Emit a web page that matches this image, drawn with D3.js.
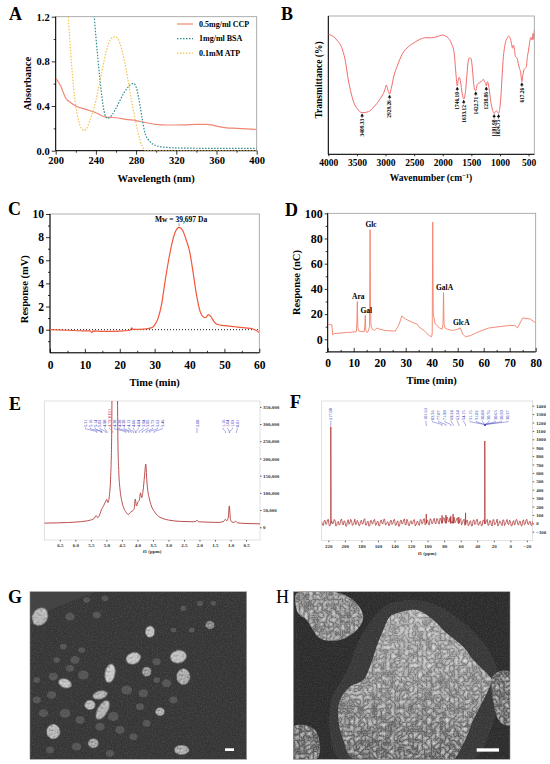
<!DOCTYPE html>
<html>
<head>
<meta charset="utf-8">
<script src="https://cdn.jsdelivr.net/npm/d3@7"></script>
<style>
body { margin: 0; background: #fff; }
svg { display: block; }
</style>
</head>
<body>
<svg id="fig" width="550" height="764"></svg>
<script>
// ---- A: UV spectra
const aNames = ["0.5mg/ml CCP", "1mg/ml BSA", "0.1mM ATP"];
const ccpWl = [200, 205, 210, 215, 220, 230, 240, 250, 260, 270, 280, 290, 300, 310, 320, 330, 340, 350, 355, 360, 370, 380, 390, 400];
const ccpAbs = [0.65, 0.58, 0.47, 0.43, 0.40, 0.37, 0.34, 0.30, 0.295, 0.28, 0.27, 0.25, 0.235, 0.23, 0.23, 0.232, 0.235, 0.235, 0.232, 0.22, 0.205, 0.2, 0.195, 0.19];
const bsaWl = [236, 238, 240, 242, 244, 246, 248, 250, 252, 256, 260, 264, 268, 272, 276, 278, 280, 282, 284, 286, 288, 290, 292, 295, 300, 305, 310, 320, 340, 360, 380, 400];
const bsaAbs = [1.45, 1.24, 1.02, 0.82, 0.64, 0.48, 0.36, 0.3, 0.29, 0.32, 0.38, 0.45, 0.52, 0.57, 0.6, 0.6, 0.57, 0.5, 0.4, 0.29, 0.19, 0.13, 0.1, 0.07, 0.045, 0.035, 0.03, 0.025, 0.022, 0.02, 0.02, 0.02];
const atpWl = [208, 210, 212, 214, 216, 218, 220, 222, 224, 226, 228, 230, 232, 234, 236, 238, 240, 242, 244, 246, 248, 250, 252, 254, 256, 258, 260, 262, 264, 266, 268, 270, 272, 274, 276, 278, 280, 282, 284, 286, 288, 290, 300, 320, 340, 360, 380, 400];
const atpAbs = [1.6, 1.45, 1.25, 1.0, 0.75, 0.55, 0.4, 0.3, 0.23, 0.195, 0.18, 0.19, 0.22, 0.27, 0.32, 0.38, 0.45, 0.53, 0.62, 0.71, 0.8, 0.88, 0.94, 0.99, 1.01, 1.02, 1.02, 1.0, 0.96, 0.9, 0.82, 0.73, 0.63, 0.52, 0.42, 0.33, 0.24, 0.16, 0.09, 0.04, 0.01, 0, 0, 0, 0, 0, 0, 0];

// ---- B: FTIR
const bWn = [4000, 3850, 3750, 3700, 3650, 3600, 3550, 3500, 3409, 3300, 3200, 3100, 3000, 2990, 2950, 2929, 2900, 2850, 2800, 2700, 2600, 2500, 2400, 2300, 2200, 2100, 2000, 1950, 1900, 1850, 1800, 1770, 1746, 1730, 1710, 1690, 1660, 1633, 1610, 1580, 1560, 1540, 1520, 1500, 1480, 1460, 1440, 1422, 1400, 1380, 1350, 1320, 1290, 1270, 1250, 1238, 1220, 1200, 1180, 1150, 1120, 1101, 1080, 1060, 1040, 1024, 1000, 980, 960, 940, 920, 900, 870, 850, 820, 800, 780, 765, 750, 730, 700, 680, 660, 640, 617, 600, 580, 560, 540, 520, 500, 480, 460, 440, 420, 410, 400];
const bTrans = [86.8, 82.6, 75.4, 67, 53.7, 44.1, 36.9, 33.3, 30.1, 30.8, 34.4, 39.8, 48.4, 50.1, 45.3, 43.6, 47.7, 57.3, 63.3, 73, 77.8, 80.7, 83.1, 84.3, 84.3, 85.0, 86.2, 85.5, 83.9, 80.3, 73, 58.6, 49.4, 53.7, 55.7, 52.5, 44.1, 40, 42.9, 56.1, 65.8, 69.4, 69.8, 68.2, 61, 51.3, 46.5, 46, 50.1, 51.3, 51.8, 53, 54.2, 52.5, 51.3, 49.4, 52.5, 50.1, 44.1, 35.6, 30.8, 29.6, 30.8, 31.5, 30.1, 29.6, 34.4, 44.1, 58.6, 70.6, 77.4, 81.4, 84.3, 85.5, 83.9, 80.3, 76.7, 79.0, 76.7, 70.6, 69.4, 65.8, 62.2, 59.7, 52.5, 57.3, 61, 62.2, 63.3, 70.6, 75.4, 81.4, 84.6, 82.6, 87.5, 83.1, 89.9];
const bPeaks = [3409.33, 2929.26, 1746.10, 1633.12, 1422.71, 1238.86, 1101.98, 1024.75, 617.26];

// ---- C: HPGPC
const cTime = [0, 5, 10, 11.5, 12, 12.5, 15, 20, 23, 23.4, 23.8, 27, 29, 30, 31, 32, 33, 34, 35, 36, 37, 38, 39, 40, 41, 42, 43, 44, 44.6, 45.4, 46.2, 47, 48, 50, 53, 56, 58, 59, 60];
const cResp = [0, -0.05, -0.1, -0.1, -0.25, -0.1, -0.15, -0.12, -0.05, 0.15, 0.03, 0.05, 0.15, 0.4, 1.0, 2.2, 4.2, 6.0, 7.5, 8.5, 8.85, 8.6, 7.8, 6.8, 5.0, 3.0, 1.6, 1.1, 1.05, 1.3, 1.1, 0.7, 0.45, 0.35, 0.25, 0.15, 0.08, -0.05, -0.25];
const mwText = "Mw = 39,697 Da";

// ---- D: monosaccharides
const dTime = [0, 1.6, 1.9, 2.5, 5, 8, 11, 11.2, 11.4, 11.6, 12, 14, 14.25, 14.45, 14.65, 15, 15.5, 16.1, 16.3, 16.45, 16.6, 16.8, 17.2, 18, 19, 20, 22, 26, 27.5, 28.5, 30, 33, 34.5, 35, 37, 39, 40, 40.2, 40.4, 40.6, 40.9, 41.2, 41.5, 42, 43, 44, 44.35, 44.55, 44.75, 45.1, 46, 48, 50, 51, 52, 53, 55, 58, 62, 66, 70, 72, 73, 74, 75, 78, 80];
const dResp = [12, 11.5, 3.5, 4.5, 5, 5.5, 6, 12, 30, 9, 6.5, 6, 10, 19, 7, 5.5, 6, 10, 87, 28, 12, 10, 8, 7, 9, 8, 7, 6.5, 12, 18.5, 16, 13, 12, 10, 7, 3, 2, 5, 93, 20, 17, 13, 12, 11, 9, 8, 12, 37, 12, 9, 8, 7, 8, 9, 4, 2, 3, 6, 9, 10, 11, 11, 9, 13, 17, 16, 13];
const sugarNames = ["Ara", "Gal", "Glc", "GalA", "GlcA"];
const sugarTimes = [11.4, 14.45, 16.3, 44.55, 51];
const sugarLevels = [30, 19, 87, 37, 9];

// ---- E: 1H NMR
const hPpm = [7.0, 6.5, 6.0, 5.6, 5.4, 5.33, 5.28, 5.2, 5.16, 5.12, 5.06, 5.02, 4.99, 4.95, 4.9, 4.86, 4.83, 4.81, 4.73, 4.65, 4.63, 4.6, 4.56, 4.5, 4.42, 4.35, 4.3, 4.25, 4.2, 4.15, 4.1, 4.07, 4.03, 3.98, 3.94, 3.9, 3.86, 3.82, 3.77, 3.73, 3.70, 3.66, 3.62, 3.55, 3.45, 3.35, 3.2, 3.0, 2.6, 2.2, 2.12, 2.08, 2.03, 1.8, 1.4, 1.22, 1.17, 1.12, 1.07, 1.04, 1.0, 0.95, 0.88, 0.84, 0.78, 0.5, 0.05];
const hInt = [12000, 13000, 15000, 19000, 25000, 34000, 28000, 40000, 52000, 58000, 68000, 76000, 81000, 72000, 95000, 150000, 260000, 450000, 500000, 450000, 260000, 160000, 110000, 75000, 52000, 42000, 37000, 40000, 46000, 48000, 55000, 82000, 62000, 74000, 78000, 100000, 86000, 105000, 150000, 184000, 140000, 103000, 85000, 62000, 45000, 34000, 26000, 21000, 17000, 16000, 17000, 21000, 16000, 15000, 14000, 17000, 23000, 19000, 30000, 62000, 22000, 15000, 14000, 18000, 13000, 11000, 10000];
const hLabelPpm = [5.31, 5.16, 5.14, 5.02, 4.98, 4.79, 4.38, 4.28, 4.20, 4.12, 4.06, 4.04, 3.94, 3.85, 3.72, 3.62, 3.46, 2.08, 1.16, 1.04, 1.03, 0.81];
const hLabelGroup = [0, 0, 0, 0, 0, 1, 2, 2, 2, 2, 2, 2, 2, 2, 2, 2, 2, 3, 4, 4, 4, 4];

// ---- F: 13C NMR  (baseline noise read at even and odd ppm)
const fNoiseEven = [
  18, -25, 37, -5, 48, -32, 28, 2, 40, -28,
  22, -12, 52, -20, 25, -35, 43, 3, 33, -18,
  49, -8, 16, -26, 38, -4, 55, -20, 27, -30,
  34, 2, 46, -18, 23, -29, 41, -6, 50, -14,
  19, -24, 37, 0, 48, -21, 29, -33, 40, -5,
  53, -16, 22, -27, 32, 4, 45, -19, 28, -26,
  43, -3, 55, -11, 37, -20, 49, -2, 60, -8,
  52, -10, 47, 4, 64, 6, 70, 18, 76, 22,
  72, 20, 66, 12, 56, -2, 48, -14, 40, -22,
  30, -30, 42, -6, 50, -18, 24, -26, 36, -2,
  47, -20, 29, -32, 41, -4, 50, -12, 20, -28,
  38, -3, 46, -17, 26, -30, 33, 1, 43, -22,
  24, -31, 40, -9, 48, -16, 22, -25];
const fNoiseOdd = [
  -20, 30, -14, 41, -27, 20, -8, 45, -33, 12,
  -22, 38, -6, 29, -31, 17, -12, 47, -25, 9,
  -17, 35, -29, 24, -9, 44, -21, 14, -34, 31,
  -11, 40, -24, 19, -30, 27, -4, 46, -19, 10,
  -28, 33, -13, 42, -23, 15, -35, 26, -7, 39,
  -18, 48, -26, 21, -10, 37, -32, 16, -15, 43,
  -6, 50, -20, 30, -12, 54, -4, 40, 0, 58,
  5, 62, 8, 66, 14, 72, 20, 68, 16, 60,
  6, 52, -4, 44, -18, 36, -24, 30, -28, 22,
  -32, 35, -16, 43, -22, 18, -30, 39, -8, 27,
  -25, 34, -14, 45, -19, 13, -33, 28, -10, 41,
  -26, 20, -6, 37, -29, 15, -21, 44, -12, 25,
  -27, 32, -18, 40, -9, 19, -24, 30];
const fPeakPpm = [217.0, 101.63, 82.56, 77.87, 71.99, 69.24, 62.24, 54.15, 30.9];
const fPeakHeight = [1150, 110, 95, 100, 85, 110, 75, 125, 980];
const cLabelPpm = [217.00, 101.63, 82.56, 77.87, 71.99, 69.24, 62.24, 54.15, 31.15, 31.02, 30.89, 30.76, 30.63, 30.50, 30.37];
const cLabelGroup = [0, 1, 2, 2, 2, 2, 2, 2, 2, 2, 2, 2, 2, 2, 2];

// ---- G/H: SEM pictures (image units 650 x 503)
const gBright = [[30, 75, 22, 28, 30, 200], [360, 120, 14, 17, 0, 210], [310, 200, 22, 17, -20, 215], [445, 195, 24, 19, -10, 210],
  [240, 245, 15, 28, 10, 220], [105, 275, 20, 13, 20, 215], [210, 310, 22, 12, -15, 200], [180, 340, 16, 14, 0, 205],
  [218, 355, 15, 32, 30, 195], [70, 420, 20, 22, 0, 200], [390, 360, 14, 12, 0, 190], [460, 255, 20, 24, 0, 185],
  [455, 475, 22, 14, 0, 190], [190, 455, 16, 14, 0, 180], [350, 240, 14, 14, 0, 170], [540, 100, 14, 12, 0, 150]];
const gDim = [[120, 75, 14], [200, 70, 12], [170, 25, 10], [225, 20, 10], [460, 50, 9], [510, 35, 9], [485, 115, 9], [430, 115, 8],
  [70, 255, 14], [135, 205, 14], [120, 230, 12], [160, 250, 16], [65, 310, 14], [40, 365, 14], [105, 365, 16], [150, 385, 14],
  [250, 375, 16], [290, 295, 16], [340, 305, 14], [380, 210, 12], [410, 275, 14], [430, 325, 12], [330, 345, 12], [270, 415, 14],
  [350, 395, 12], [140, 465, 14], [60, 475, 12], [240, 485, 12], [550, 35, 8], [100, 165, 10], [155, 175, 10], [80, 205, 10],
  [20, 325, 12], [380, 265, 10], [20, 265, 10], [210, 405, 14], [310, 435, 12]];
const hBig = [[310, 65], [370, 55], [420, 85], [460, 125], [510, 165], [540, 205], [580, 245], [595, 265], [580, 305], [560, 345], [540, 385], [520, 435], [500, 475], [480, 503], [180, 503], [150, 445], [135, 385], [140, 325], [170, 285], [210, 265], [230, 225], [250, 165], [270, 115], [290, 75]];
const hHalo = [[280, 40], [400, 30], [520, 100], [600, 200], [620, 300], [590, 420], [540, 503], [140, 503], [110, 420], [115, 320], [160, 240], [200, 140]];
const hTopLeft = [[10, 5], [120, 0], [180, 25], [210, 75], [190, 115], [140, 145], [80, 140], [40, 85], [15, 65]];
const hRight = [[600, 250], [650, 240], [650, 400], [620, 390], [600, 330]];
const hBottomLeft = [[0, 405], [60, 410], [80, 460], [70, 503], [0, 503]];

const SERIF = '"Liberation Serif", "Times New Roman", serif';
const svg = d3.select("#fig");
const defs = svg.append("defs");

function clip(id, x, y) {
  const [x0, x1] = d3.extent(x.range()), [y0, y1] = d3.extent(y.range());
  defs.append("clipPath").attr("id", id).append("rect")
    .attr("x", x0).attr("y", y0).attr("width", x1 - x0).attr("height", y1 - y0);
  return "url(#" + id + ")";
}

function frame(g, x, y, colour, w) {
  const [x0, x1] = d3.extent(x.range()), [y0, y1] = d3.extent(y.range());
  g.append("rect").attr("x", x0).attr("y", y0).attr("width", x1 - x0).attr("height", y1 - y0)
    .attr("fill", "none").attr("stroke", colour).attr("stroke-width", w || 0.8);
}

function axisLines(g, x, y) {
  const [x0, x1] = d3.extent(x.range()), [y0, y1] = d3.extent(y.range());
  g.append("path").attr("d", `M${x0},${y0}V${y1}H${x1}`)
    .attr("fill", "none").attr("stroke", "#000").attr("stroke-width", 1);
}

function styleAxis(sel, size, colour, weight) {
  sel.select(".domain").remove();
  sel.selectAll("line").attr("stroke", colour || "#000").attr("stroke-width", 0.8);
  sel.selectAll("text").attr("font-family", SERIF).attr("font-size", size)
    .attr("font-weight", weight || "bold").attr("fill", colour || "#000");
}

function text(g, x, y, t, size, anchor, rotate) {
  const el = g.append("text").attr("font-family", SERIF).attr("font-weight", "bold")
    .attr("font-size", size).attr("text-anchor", anchor || "middle").text(t);
  if (rotate) el.attr("transform", `translate(${x},${y}) rotate(${rotate})`).attr("dy", "0.35em");
  else el.attr("x", x).attr("y", y);
  return el;
}

function letter(x, y, t, weight) {
  svg.append("text").attr("x", x).attr("y", y).attr("font-family", SERIF)
    .attr("font-weight", weight || "bold").attr("font-size", 18).text(t);
}

// ================= A
const gA = svg.append("g");
const xA = d3.scaleLinear().domain([200, 400]).range([55.7, 256.7]);
const yA = d3.scaleLinear().domain([0, 1.2]).range([150.7, 16.7]);
frame(gA, xA, yA, "#999");
axisLines(gA, xA, yA);
gA.append("g").attr("transform", `translate(0,${yA(0)})`)
  .call(d3.axisBottom(xA).tickValues(d3.range(220, 400, 40)).tickSize(2).tickFormat(""))
  .call(styleAxis, 10);
gA.append("g").attr("transform", `translate(0,${yA(0)})`)
  .call(d3.axisBottom(xA).tickValues(d3.range(200, 401, 40)).tickSize(4).tickPadding(2))
  .call(styleAxis, 10.5);
gA.append("g").attr("transform", `translate(${xA(200)},0)`)
  .call(d3.axisLeft(yA).tickValues([0.2, 0.6, 1.0]).tickSize(2).tickFormat(""))
  .call(styleAxis, 10);
gA.append("g").attr("transform", `translate(${xA(200)},0)`)
  .call(d3.axisLeft(yA).tickValues([0, 0.4, 0.8, 1.2]).tickSize(4).tickPadding(2).tickFormat(d3.format(".1f")))
  .call(styleAxis, 10.5);
text(gA, d3.mean(xA.range()), 182, "Wavelength (nm)", 10.5);
text(gA, 27, yA(0.6), "Absorbance", 10.5, "middle", -90);

const aSeries = [
  { wl: ccpWl, ab: ccpAbs, colour: "#f08674", dash: null },
  { wl: bsaWl, ab: bsaAbs, colour: "#2f8c8c", dash: "1.5,1.5" },
  { wl: atpWl, ab: atpAbs, colour: "#f6c24c", dash: "1.5,1.5" }
];
const lineA = d3.line().x(d => xA(d[0])).y(d => yA(d[1])).curve(d3.curveMonotoneX);
const plotA = gA.append("g").attr("clip-path", clip("clipA", xA, yA));
aSeries.forEach(s => {
  plotA.append("path").datum(d3.zip(s.wl, s.ab)).attr("d", lineA)
    .attr("fill", "none").attr("stroke", s.colour).attr("stroke-width", 1.2)
    .attr("stroke-dasharray", s.dash);
});
const legA = gA.append("g");
aNames.forEach((n, i) => {
  const ly = 24 + i * 14.6;
  legA.append("line").attr("x1", 177).attr("x2", 193).attr("y1", ly).attr("y2", ly)
    .attr("stroke", aSeries[i].colour).attr("stroke-width", 1.2).attr("stroke-dasharray", aSeries[i].dash);
  text(legA, 199, ly + 2.8, n, 8, "start");
});
letter(9, 19.5, "A");

// ================= B
const gB = svg.append("g");
const xB = d3.scaleLinear().domain([4000, 400]).range([328.3, 534.3]);
const yB = d3.scaleLinear().domain([0, 100]).range([154.3, 16]);
frame(gB, xB, yB, "#999");
axisLines(gB, xB, yB);
gB.append("g").attr("transform", `translate(0,${yB(0)})`)
  .call(d3.axisBottom(xB).tickValues(d3.range(4000, 499, -500)).tickSize(2).tickPadding(3).tickFormat(d3.format("d")))
  .call(styleAxis, 9.5);
text(gB, 431, 181, "Wavenumber (cm", 9.5)
  .call(t => {
    t.append("tspan").attr("dy", -3.5).attr("font-size", 6.5).text("\u22121");
    t.append("tspan").attr("dy", 3.5).text(")");
  });
text(gB, 318.5, 80, "Transmittance (%)", 9.5, "middle", -90);
const lineB = d3.line().x(d => xB(d[0])).y(d => yB(d[1])).curve(d3.curveMonotoneX);
gB.append("g").attr("clip-path", clip("clipB", xB, yB))
  .append("path").datum(d3.zip(bWn, bTrans)).attr("d", lineB)
  .attr("fill", "none").attr("stroke", "#f36a6a").attr("stroke-width", 1);
const transAt = d3.scaleLinear().domain(bWn).range(bTrans);
bPeaks.forEach(p => {
  const px = xB(p), py = yB(transAt(p));
  gB.append("path").attr("d", `M${px},${py + 1.2}l-1.3,2.4h2.6z M${px},${py + 3.4}V${py + 5.5}`)
    .attr("stroke", "#000").attr("stroke-width", 0.5).attr("fill", "#000");
  gB.append("text").attr("transform", `translate(${px},${py + 6.2}) rotate(-90)`)
    .attr("dy", "0.35em").attr("text-anchor", "end")
    .attr("font-family", SERIF).attr("font-weight", "bold").attr("font-size", 5.4).text(p.toFixed(2));
});
letter(281, 19.5, "B");

// ================= C
const gC = svg.append("g");
const xC = d3.scaleLinear().domain([0, 60]).range([50, 259.3]);
const yC = d3.scaleLinear().domain([-2, 10]).range([352.8, 214]);
frame(gC, xC, yC, "#999");
axisLines(gC, xC, yC);
gC.append("g").attr("transform", `translate(0,${yC(-2)})`)
  .call(d3.axisBottom(xC).tickValues(d3.range(5, 60, 10)).tickSize(-2).tickFormat(""))
  .call(styleAxis, 11);
gC.append("g").attr("transform", `translate(0,${yC(-2)})`)
  .call(d3.axisBottom(xC).tickValues(d3.range(0, 61, 10)).tickSize(-4).tickPadding(8))
  .call(styleAxis, 11.5);
gC.append("g").attr("transform", `translate(${xC(0)},0)`)
  .call(d3.axisLeft(yC).tickValues([-1, 1, 3, 5, 7, 9]).tickSize(2).tickFormat(""))
  .call(styleAxis, 11);
gC.append("g").attr("transform", `translate(${xC(0)},0)`)
  .call(d3.axisLeft(yC).tickValues([0, 2, 4, 6, 8, 10]).tickSize(4).tickPadding(2))
  .call(styleAxis, 11.5);
text(gC, d3.mean(xC.range()), 386, "Time (min)", 10.5);
text(gC, 24, yC(3.5), "Response (mV)", 10.5, "middle", -90);
gC.append("line").attr("x1", xC(0)).attr("x2", xC(60)).attr("y1", yC(0)).attr("y2", yC(0))
  .attr("stroke", "#000").attr("stroke-width", 0.9).attr("stroke-dasharray", "1,2");
const lineC = d3.line().x(d => xC(d[0])).y(d => yC(d[1])).curve(d3.curveMonotoneX);
gC.append("g").attr("clip-path", clip("clipC", xC, yC))
  .append("path").datum(d3.zip(cTime, cResp)).attr("d", lineC)
  .attr("fill", "none").attr("stroke", "#f2573a").attr("stroke-width", 1.2);
const cTop = d3.greatestIndex(cResp);
gC.append("line").attr("x1", xC(cTime[cTop])).attr("x2", xC(cTime[cTop]))
  .attr("y1", yC(cResp[cTop]) - 1).attr("y2", yC(cResp[cTop]) - 4).attr("stroke", "#666").attr("stroke-width", 0.6);
text(gC, xC(cTime[cTop]) + 2, yC(cResp[cTop]) - 5, mwText, 7.5);
letter(8, 215, "C");

// ================= D
const gD = svg.append("g");
const xD = d3.scaleLinear().domain([0, 80]).range([327.7, 535.7]);
const yD = d3.scaleLinear().domain([-10, 100]).range([351.9, 213.3]);
frame(gD, xD, yD, "#999");
axisLines(gD, xD, yD);
gD.append("g").attr("transform", `translate(0,${yD(-10)})`)
  .call(d3.axisBottom(xD).tickValues(d3.range(5, 80, 10)).tickSize(-2).tickFormat(""))
  .call(styleAxis, 11);
gD.append("g").attr("transform", `translate(0,${yD(-10)})`)
  .call(d3.axisBottom(xD).tickValues(d3.range(0, 81, 10)).tickSize(-4).tickPadding(7))
  .call(styleAxis, 11.5);
gD.append("g").attr("transform", `translate(${xD(0)},0)`)
  .call(d3.axisLeft(yD).tickValues(d3.range(-10, 100, 20)).tickSize(2).tickFormat(""))
  .call(styleAxis, 11);
gD.append("g").attr("transform", `translate(${xD(0)},0)`)
  .call(d3.axisLeft(yD).tickValues(d3.range(0, 101, 20)).tickSize(3).tickPadding(2))
  .call(styleAxis, 12);
text(gD, d3.mean(xD.range()), 384, "Time (min)", 10.5);
text(gD, 296, yD(45), "Response (nC)", 10.5, "middle", -90);
const lineD = d3.line().x(d => xD(d[0])).y(d => yD(d[1]));
gD.append("g").attr("clip-path", clip("clipD", xD, yD))
  .append("path").datum(d3.zip(dTime, dResp)).attr("d", lineD)
  .attr("fill", "none").attr("stroke", "#f4806a").attr("stroke-width", 0.9);
sugarNames.forEach((n, i) => {
  text(gD, xD(sugarTimes[i]) + 1, yD(sugarLevels[i]) - 2.5, n, 7.5);
});
letter(285, 216, "D");

// peak label layout for the NMR panels: grouped, evenly spaced, pushed left when crowded
function layoutLabels(ppms, groups, x, sp) {
  const slots = [];
  d3.groups(d3.range(ppms.length), i => groups[i]).forEach(([, idx]) => {
    const c = x(d3.mean(idx, i => ppms[i]));
    idx.forEach((i, k) => { slots[i] = c + (k - (idx.length - 1) / 2) * sp; });
  });
  for (let i = ppms.length - 2; i >= 0; i--) slots[i] = Math.min(slots[i], slots[i + 1] - sp);
  return slots;
}

function nmrLabels(g, ppms, groups, x, sp, yb, size, special) {
  const slots = layoutLabels(ppms, groups, x, sp);
  ppms.forEach((p, i) => {
    const red = special && special.index === i;
    g.append("text").attr("transform", `translate(${slots[i]},${yb}) rotate(-90)`)
      .attr("dy", "0.35em").attr("font-family", SERIF).attr("font-size", size)
      .attr("fill", red ? "#e03030" : "#2b2bb8")
      .text(p.toFixed(2) + (red ? " " + special.text : ""));
    g.append("path").attr("d", `M${slots[i]},${yb + 0.6}V${yb + 1.8}L${x(p)},${yb + 4.5}V${yb + 6}`)
      .attr("fill", "none").attr("stroke", red ? "#e03030" : "#2b2bb8").attr("stroke-width", 0.4);
  });
}

// ================= E
const gE = svg.append("g");
const xE = d3.scaleLinear().domain([7.0, 0.05]).range([44.3, 260]);
const yE = d3.scaleLinear().domain([-37000, 367000]).range([540, 401]);
frame(gE, xE, yE, "#d4d4d4", 0.7);
gE.append("g").attr("transform", `translate(0,${yE.range()[0]})`)
  .call(d3.axisBottom(xE).tickValues(d3.range(0.5, 6.6, 0.5)).tickSize(1.5).tickPadding(1.5).tickFormat(d3.format(".1f")))
  .call(styleAxis, 5, "#333");
gE.append("g").attr("transform", `translate(${xE.range()[1]},0)`)
  .call(d3.axisRight(yE).tickValues(d3.range(0, 350001, 50000)).tickSize(1.5).tickPadding(1.5).tickFormat(d3.format(",")))
  .call(styleAxis, 5, "#333");
text(gE, d3.mean(xE.range()), 553, "f1 (ppm)", 5).attr("fill", "#333");
const lineE = d3.line().x(d => xE(d[0])).y(d => yE(d[1])).curve(d3.curveMonotoneX);
gE.append("g").attr("clip-path", clip("clipE", xE, yE))
  .append("path").datum(d3.zip(hPpm, hInt)).attr("d", lineE)
  .attr("fill", "none").attr("stroke", "#b43a3a").attr("stroke-width", 0.9);
nmrLabels(gE, hLabelPpm, hLabelGroup, xE, 4.8, 427, 4.3, { index: 5, text: "HDO" });
letter(9, 410, "E");

// ================= F
const gF = svg.append("g");
const xF = d3.scaleLinear().domain([228, -27]).range([321.7, 532.7]);
const yF = d3.scaleLinear().domain([-207, 1456]).range([540.7, 401]);
frame(gF, xF, yF, "#d4d4d4", 0.7);
gF.append("g").attr("transform", `translate(0,${yF.range()[0]})`)
  .call(d3.axisBottom(xF).tickValues(d3.range(-20, 221, 20)).tickSize(1.5).tickPadding(2).tickFormat(d3.format("d")))
  .call(styleAxis, 5, "#333");
gF.append("g").attr("transform", `translate(${xF.range()[1]},0)`)
  .call(d3.axisRight(yF).tickValues(d3.range(-100, 1401, 100)).tickSize(1.5).tickPadding(2).tickFormat(d3.format("d")))
  .call(styleAxis, 4.8, "#333");
text(gF, d3.mean(xF.range()), 555, "f1 (ppm)", 5).attr("fill", "#333");
const evenPpm = d3.range(228, -28, -2), oddPpm = d3.range(227, -28, -2);
const fPts = fNoiseEven.map((v, i) => [evenPpm[i], v]).concat(fNoiseOdd.map((v, i) => [oddPpm[i], v]));
fPeakPpm.forEach((p, i) => {
  fPts.push([p + 0.3, 0], [p, fPeakHeight[i]], [p - 0.3, 0]);
});
fPts.sort((a, b) => b[0] - a[0]);
const lineF = d3.line().x(d => xF(d[0])).y(d => yF(d[1]));
gF.append("g").attr("clip-path", clip("clipF", xF, yF))
  .append("path").datum(fPts).attr("d", lineF)
  .attr("fill", "none").attr("stroke", "#a82828").attr("stroke-width", 0.7);
nmrLabels(gF, cLabelPpm, cLabelGroup, xF, 6.3, 420, 4.3, null);
letter(290, 408, "F");

// ================= G / H  (SEM)
// texture: white specks where the noise is high, dark specks where it is low
function texture(id, freq, octaves, type, w, k) {
  const f = defs.append("filter").attr("id", id).attr("color-interpolation-filters", "sRGB")
    .attr("x", "-5%").attr("y", "-5%").attr("width", "110%").attr("height", "110%");
  f.append("feTurbulence").attr("type", type).attr("baseFrequency", freq).attr("numOctaves", octaves).attr("seed", 4).attr("result", "n");
  f.append("feColorMatrix").attr("in", "n").attr("type", "matrix")
    .attr("values", `0 0 0 0 1  0 0 0 0 1  0 0 0 0 1  ${w[0]} 0 0 0 ${w[1]}`).attr("result", "w");
  f.append("feColorMatrix").attr("in", "n").attr("type", "matrix")
    .attr("values", `0 0 0 0 0  0 0 0 0 0  0 0 0 0 0  ${k[0]} 0 0 0 ${k[1]}`).attr("result", "k");
  f.append("feComposite").attr("in", "w").attr("in2", "SourceGraphic").attr("operator", "in").attr("result", "wt");
  f.append("feComposite").attr("in", "k").attr("in2", "SourceGraphic").attr("operator", "in").attr("result", "kt");
  const m = f.append("feMerge");
  m.append("feMergeNode").attr("in", "SourceGraphic");
  m.append("feMergeNode").attr("in", "kt");
  m.append("feMergeNode").attr("in", "wt");
}
texture("grain", 0.8, 2, "fractalNoise", [0.22, -0.09], [-0.22, 0.09]);
texture("rough", 0.45, 2, "fractalNoise", [0.9, -0.38], [-0.9, 0.4]);
texture("wrinkle", 0.22, 3, "turbulence", [1.1, -0.15], [-0.8, 0.2]);

const xG = d3.scaleLinear().domain([0, 650]).range([30, 246.7]);
const yG = d3.scaleLinear().domain([0, 503]).range([591.7, 759.3]);
const xH = d3.scaleLinear().domain([0, 650]).range([293.3, 510]);
const yH = yG;

const gG = svg.append("g").attr("clip-path", clip("clipG", xG, yG));
gG.append("rect").attr("x", xG(0)).attr("y", yG(0)).attr("width", xG(650) - xG(0)).attr("height", yG(503) - yG(0))
  .attr("fill", "#363636").attr("filter", "url(#grain)");
gG.append("path").attr("d", d3.line().x(d => xG(d[0])).y(d => yG(d[1]))([[0, 0], [200, 0], [120, 30], [0, 80]]))
  .attr("fill", "#444");
gDim.forEach(d => {
  gG.append("ellipse").attr("cx", xG(d[0])).attr("cy", yG(d[1]))
    .attr("rx", xG(d[2]) - xG(0)).attr("ry", yG(d[2] * 0.85) - yG(0))
    .attr("fill", "#545454").attr("filter", "url(#grain)");
});
gBright.forEach(d => {
  const c = d3.rgb(d[5] * 0.9, d[5] * 0.9, d[5] * 0.9);
  gG.append("ellipse").attr("rx", xG(d[2]) - xG(0)).attr("ry", yG(d[3]) - yG(0))
    .attr("transform", `translate(${xG(d[0])},${yG(d[1])}) rotate(${d[4]})`)
    .attr("fill", c).attr("stroke", c.darker(1.5)).attr("stroke-width", 0.6).attr("filter", "url(#rough)");
});
gG.append("rect").attr("x", xG(585)).attr("y", yG(470)).attr("width", xG(612) - xG(585)).attr("height", yG(478) - yG(470))
  .attr("fill", "#fff");
frame(svg, xG, yG, "#888", 0.6);
letter(8, 603, "G");

const gH = svg.append("g").attr("clip-path", clip("clipH", xH, yH));
const polyH = d3.line().x(d => xH(d[0])).y(d => yH(d[1])).curve(d3.curveCatmullRomClosed);
gH.append("rect").attr("x", xH(0)).attr("y", yH(0)).attr("width", xH(650) - xH(0)).attr("height", yH(503) - yH(0))
  .attr("fill", "#2c2c2c").attr("filter", "url(#grain)");
gH.append("path").attr("d", polyH(hHalo)).attr("fill", "#383838").attr("filter", "url(#grain)");
const hGrad = defs.append("linearGradient").attr("id", "hGrad").attr("x1", 0).attr("y1", 0).attr("x2", 0).attr("y2", 1);
hGrad.append("stop").attr("offset", "0%").attr("stop-color", "#a0a0a0");
hGrad.append("stop").attr("offset", "55%").attr("stop-color", "#888");
hGrad.append("stop").attr("offset", "100%").attr("stop-color", "#606060");
[hBottomLeft, hRight].forEach(p => {
  gH.append("path").attr("d", polyH(p)).attr("fill", "#666").attr("filter", "url(#wrinkle)");
});
gH.append("path").attr("d", polyH(hTopLeft)).attr("fill", "#808080").attr("filter", "url(#wrinkle)");
gH.append("path").attr("d", polyH(hBig)).attr("fill", "url(#hGrad)").attr("filter", "url(#wrinkle)");
gH.append("rect").attr("x", xH(550)).attr("y", yH(470)).attr("width", xH(617) - xH(550)).attr("height", yH(480) - yH(470))
  .attr("fill", "#fff");
frame(svg, xH, yH, "#888", 0.6);
letter(276, 603, "H", "normal");
</script>
</body>
</html>
